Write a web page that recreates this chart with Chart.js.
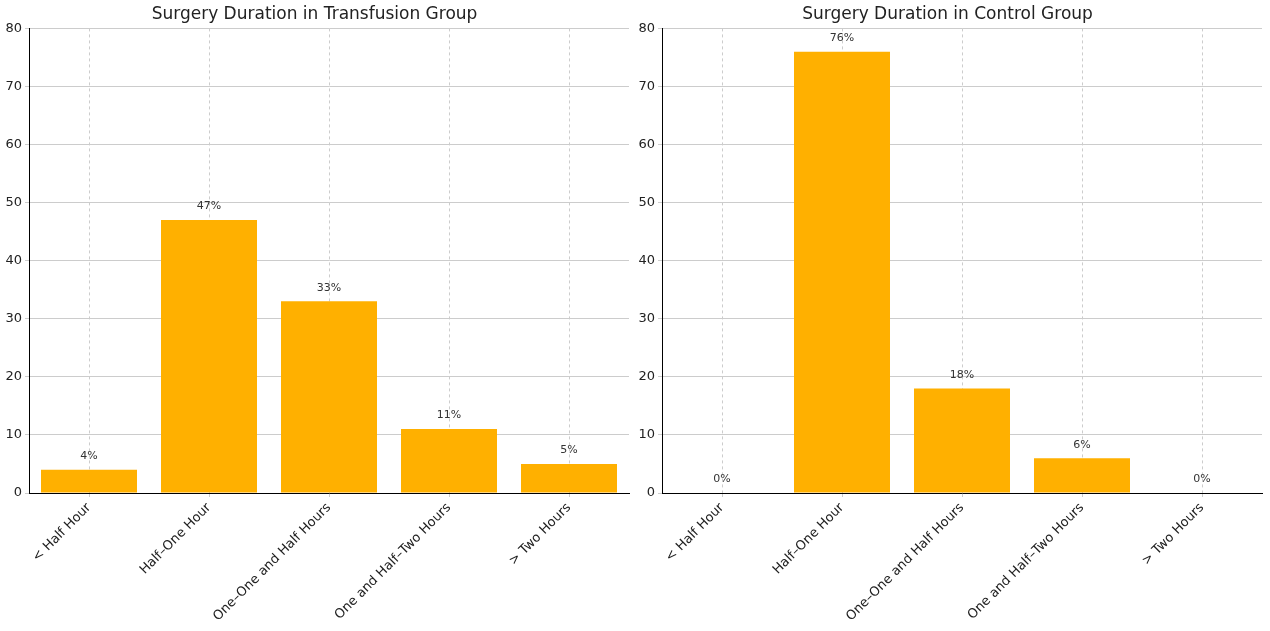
<!DOCTYPE html>
<html>
<head>
<meta charset="utf-8">
<script src="https://cdn.jsdelivr.net/npm/chart.js@4.4.0/dist/chart.umd.min.js"></script>
<style>
  body { margin: 0; background: #fff; }
  .box { position: absolute; top: 0; height: 631px; }
</style>
</head>
<body>
<div class="box" style="left:0;width:635px"><canvas id="transfusion"></canvas></div>
<div class="box" style="left:633px;width:637px"><canvas id="control"></canvas></div>
<script>
// categories and values
const categories = ['< Half Hour', 'Half–One Hour', 'One–One and Half Hours', 'One and Half–Two Hours', '> Two Hours'];
const transfusionValues = [4, 47, 33, 11, 5];
const controlValues = [0, 76, 18, 6, 0];
const yTicks = [0, 10, 20, 30, 40, 50, 60, 70, 80];

const barColor = '#FFB000';
const font = 'DejaVu Sans';

// percent labels over each bar
const valueLabels = {
    id: 'valueLabels',
    afterDatasetsDraw(chart) {
        const ctx = chart.ctx;
        const meta = chart.getDatasetMeta(0);
        ctx.save();
        ctx.font = '11px "' + font + '"';
        ctx.fillStyle = '#333';
        ctx.textAlign = 'center';
        ctx.textBaseline = 'bottom';
        meta.data.forEach((bar, i) => {
            ctx.fillText(chart.data.datasets[0].data[i] + '%', bar.x, bar.y - 8);
        });
        ctx.restore();
    }
};

function makeChart(id, title, values, rightPad) {
    new Chart(document.getElementById(id), {
        type: 'bar',
        data: {
            labels: categories,
            datasets: [{
                data: values,
                backgroundColor: barColor,
                categoryPercentage: 0.8,
                barPercentage: 1
            }]
        },
        options: {
            responsive: true,
            maintainAspectRatio: false,
            animation: false,
            layout: { padding: { left: 0, right: rightPad, top: 0, bottom: 0 } },
            plugins: {
                legend: { display: false },
                tooltip: { enabled: false },
                title: {
                    display: true,
                    text: title,
                    color: '#222',
                    font: { family: font, size: 17, weight: 'normal' },
                    padding: { top: 4, bottom: 4 }
                }
            },
            scales: {
                x: {
                    grid: { offset: false, color: '#ccc', borderDash: [3, 3], tickLength: 4 },
                    border: { color: '#000', dash: [3, 3] },
                    ticks: {
                        color: '#222', minRotation: 45, maxRotation: 45,
                        font: { family: font, size: 13 }
                    },
                    afterFit(scale) { scale.height = 138; }
                },
                y: {
                    min: 0, max: 80,
                    afterBuildTicks(scale) { scale.ticks = yTicks.map(v => ({ value: v })); },
                    grid: { color: '#ccc', tickLength: 4 },
                    border: { color: '#000' },
                    ticks: { color: '#222', font: { family: font, size: 13 }, padding: 3 },
                    afterFit(scale) { scale.width = 29; }
                }
            }
        },
        plugins: [valueLabels, {
            id: 'dashGrid',
            beforeDraw(chart) {
                chart.options.scales.x.grid.borderDash = [3, 3];
            }
        }]
    });
}

makeChart('transfusion', 'Surgery Duration in Transfusion Group', transfusionValues, 6);
makeChart('control', 'Surgery Duration in Control Group', controlValues, 8);
</script>
</body>
</html>
